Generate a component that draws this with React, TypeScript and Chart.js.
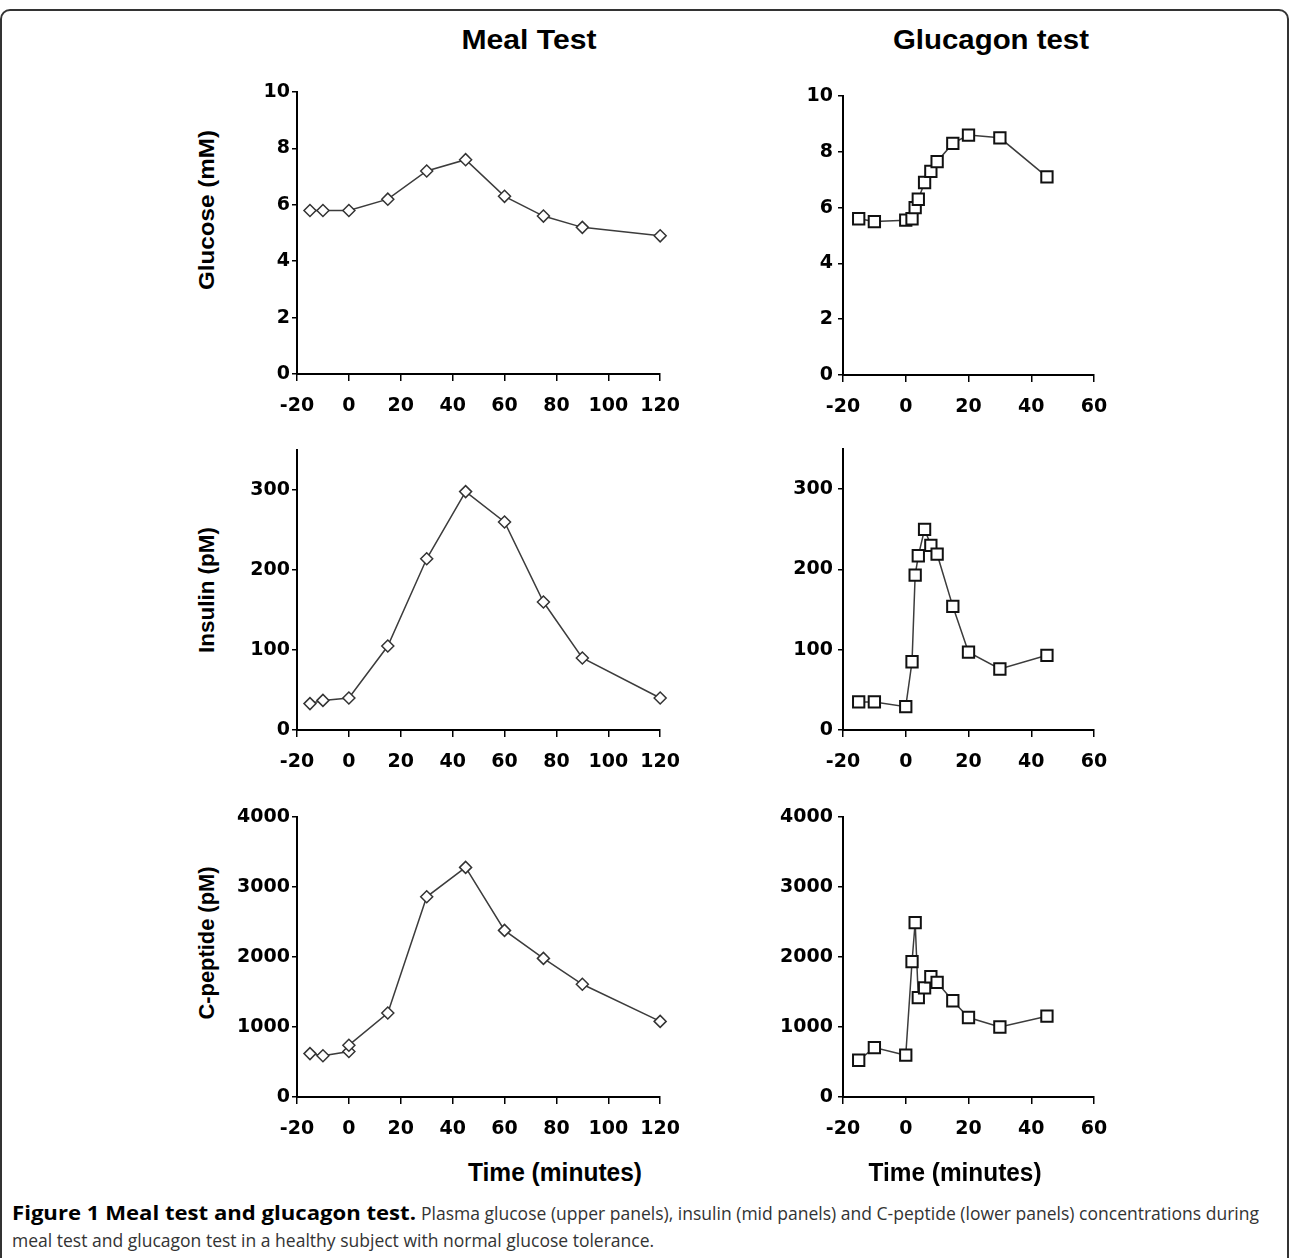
import React, { useEffect, useRef } from 'react';
import { Chart, registerables } from 'chart.js';

Chart.register(...registerables);

// ---------------- data ----------------
const mealTimes = [-15, -10, 0, 15, 30, 45, 60, 75, 90, 120];
const mealGlucose = [5.8, 5.8, 5.8, 6.2, 7.2, 7.6, 6.3, 5.6, 5.2, 4.9];
const mealInsulin = [33, 37, 40, 105, 214, 298, 260, 160, 90, 40];
const mealCpepTimes = [-15, -10, 0, 0, 15, 30, 45, 60, 75, 90, 120];
const mealCpeptide = [620, 590, 650, 740, 1200, 2860, 3280, 2380, 1980, 1610, 1080];

const glucagonTimes = [-15, -10, 0, 2, 3, 4, 6, 8, 10, 15, 20, 30, 45];
const glucagonGlucose = [5.6, 5.5, 5.55, 5.6, 6.0, 6.3, 6.9, 7.3, 7.65, 8.3, 8.6, 8.5, 7.1];
const glucagonInsulin = [35, 35, 29, 85, 193, 217, 250, 230, 219, 154, 97, 76, 93];
const glucagonCpeptide = [525, 706, 597, 1933, 2492, 1420, 1560, 1718, 1637, 1375, 1136, 1000, 1155];

const mealXRange = [-20, 120];
const glucagonXRange = [-20, 60];
const xTickStep = 20;
const glucoseRange = [0, 10, 2];
const insulinRange = [0, 350, 100];
const cpeptideRange = [0, 4000, 1000];

const columnTitles = ['Meal Test', 'Glucagon test'];
const rowTitles = ['Glucose (mM)', 'Insulin (pM)', 'C-peptide (pM)'];
const xAxisTitle = 'Time (minutes)';
const captionBold = 'Figure 1 Meal test and glucagon test.';
const captionLine1 = 'Plasma glucose (upper panels), insulin (mid panels) and C-peptide (lower panels) concentrations during';
const captionLine2 = 'meal test and glucagon test in a healthy subject with normal glucose tolerance.';

// ---------------- layout helpers ----------------
const WY = 75;
const HX = 50;
const PADT = 25;
const PADR = 30;

type Area = { l: number; t: number; r: number; b: number };

const TICK_FONT = { family: 'DejaVu Sans', size: 19, weight: 'bold' as const };

type PanelProps = {
  xs: number[];
  ys: number[];
  area: Area;
  xRange: number[];
  yRange: number[];
  marker: 'diamond' | 'square';
  yTickPad: number;
};

function Panel({ xs, ys, area, xRange, yRange, marker, yTickPad }: PanelProps) {
  const ref = useRef<HTMLCanvasElement | null>(null);
  const width = area.r - area.l + WY + PADR;
  const height = area.b - area.t + PADT + HX;
  useEffect(() => {
    if (!ref.current) return;
    const pts = xs.map((x, i) => ({ x, y: ys[i] }));
    const isDiamond = marker === 'diamond';
    const chart = new Chart(ref.current, {
      type: 'line',
      data: {
        datasets: [
          {
            data: pts,
            borderColor: '#3c3c3c',
            borderWidth: 1.5,
            tension: 0,
            fill: false,
            clip: false as any,
            pointStyle: isDiamond ? 'rectRot' : 'rect',
            pointRadius: isDiamond ? 6 : 8,
            pointBorderWidth: isDiamond ? 1.5 : 2,
            pointBorderColor: isDiamond ? '#333' : '#111',
            pointBackgroundColor: '#fff',
          },
        ],
      },
      options: {
        animation: false,
        responsive: false,
        maintainAspectRatio: false,
        layout: { padding: { left: 0, top: PADT, right: PADR, bottom: 0 } },
        plugins: { legend: { display: false }, tooltip: { enabled: false } },
        scales: {
          x: {
            type: 'linear',
            min: xRange[0],
            max: xRange[1],
            afterFit: (s: any) => {
              s.height = HX;
            },
            ticks: {
              stepSize: xTickStep,
              font: TICK_FONT,
              color: '#000',
              padding: 14,
              maxRotation: 0,
              autoSkip: false,
              includeBounds: false,
              callback: (v: any) => String(v),
            },
            grid: { drawOnChartArea: false, drawTicks: true, tickLength: 7, color: '#000', lineWidth: 1.5 },
            border: { display: true, color: '#000', width: 2 },
          },
          y: {
            type: 'linear',
            min: yRange[0],
            max: yRange[1],
            afterFit: (s: any) => {
              s.width = WY;
            },
            ticks: {
              stepSize: yRange[2],
              font: TICK_FONT,
              color: '#000',
              padding: yTickPad,
              autoSkip: false,
              includeBounds: false,
              callback: (v: any) => String(v),
            },
            grid: { drawOnChartArea: false, drawTicks: true, tickLength: 5, color: '#000', lineWidth: 1.5 },
            border: { display: true, color: '#000', width: 2 },
          },
        },
      },
    } as any);
    return () => chart.destroy();
  }, []);
  return (
    <canvas
      ref={ref}
      width={width}
      height={height}
      style={{ position: 'absolute', left: area.l - WY, top: area.t - PADT, width, height }}
    />
  );
}

const measureCtx = document.createElement('canvas').getContext('2d') as CanvasRenderingContext2D;
function measure(text: string, font: string) {
  measureCtx.font = font;
  return measureCtx.measureText(text).width;
}

function FitText({
  text,
  font,
  cx,
  cy,
  width,
  rotate = 0,
  color = '#000',
}: {
  text: string;
  font: string;
  cx: number;
  cy: number;
  width: number;
  rotate?: number;
  color?: string;
}) {
  const sx = width / measure(text, font);
  return (
    <div
      style={{
        position: 'absolute',
        left: cx,
        top: cy,
        whiteSpace: 'nowrap',
        font,
        lineHeight: 1,
        color,
        transform: `translate(-50%, -50%) rotate(${rotate}deg) scaleX(${sx})`,
      }}
    >
      {text}
    </div>
  );
}

function LeftText({
  text,
  font,
  x,
  cy,
  sx,
  color,
}: {
  text: string;
  font: string;
  x: number;
  cy: number;
  sx: number;
  color: string;
}) {
  return (
    <div
      style={{
        position: 'absolute',
        left: x,
        top: cy,
        whiteSpace: 'pre',
        lineHeight: 1,
        font,
        color,
        transformOrigin: '0 50%',
        transform: `translate(0, -50%) scaleX(${sx})`,
      }}
    >
      {text}
    </div>
  );
}

const CAP_BOLD = 'bold 19px "Open Sans"';
const CAP_REG = '19px "Open Sans"';

function Caption() {
  const sxBold = 404 / measure(captionBold, CAP_BOLD);
  const sxReg = 838 / measure(captionLine1, CAP_REG);
  return (
    <>
      <LeftText text={captionBold} font={CAP_BOLD} x={12} cy={1213} sx={sxBold} color="#000" />
      <LeftText text={captionLine1} font={CAP_REG} x={421} cy={1213} sx={sxReg} color="#333" />
      <LeftText text={captionLine2} font={CAP_REG} x={12} cy={1240} sx={sxReg} color="#333" />
    </>
  );
}

export default function App() {
  const mealArea = (t: number, b: number): Area => ({ l: 297, r: 664, t, b });
  const glucArea = (t: number, b: number): Area => ({ l: 843, r: 1094, t, b });
  return (
    <div
      style={{
        position: 'absolute',
        left: 0,
        top: 0,
        width: 1290,
        height: 1258,
        overflow: 'hidden',
        background: '#fff',
      }}
    >
      <div
        style={{
          position: 'absolute',
          left: 0,
          top: 9,
          width: 1289,
          height: 1300,
          border: '2px solid #333',
          borderRadius: 10,
          boxSizing: 'border-box',
        }}
      />
      <FitText text={columnTitles[0]} font='bold 28px "Liberation Sans"' cx={529} cy={40} width={135} />
      <FitText text={columnTitles[1]} font='bold 28px "Liberation Sans"' cx={991} cy={40} width={196} />

      <FitText text={rowTitles[0]} font='bold 22px "Liberation Sans"' cx={207} cy={210} width={160} rotate={-90} />
      <FitText text={rowTitles[1]} font='bold 22px "Liberation Sans"' cx={207} cy={590} width={126} rotate={-90} />
      <FitText text={rowTitles[2]} font='bold 22px "Liberation Sans"' cx={207} cy={943} width={153} rotate={-90} />

      <Panel xs={mealTimes} ys={mealGlucose} area={mealArea(92, 374)} xRange={mealXRange} yRange={glucoseRange} marker="diamond" yTickPad={2} />
      <Panel xs={mealTimes} ys={mealInsulin} area={mealArea(450, 730)} xRange={mealXRange} yRange={insulinRange} marker="diamond" yTickPad={2} />
      <Panel xs={mealCpepTimes} ys={mealCpeptide} area={mealArea(817, 1097)} xRange={mealXRange} yRange={cpeptideRange} marker="diamond" yTickPad={2} />

      <Panel xs={glucagonTimes} ys={glucagonGlucose} area={glucArea(96, 375)} xRange={glucagonXRange} yRange={glucoseRange} marker="square" yTickPad={5} />
      <Panel xs={glucagonTimes} ys={glucagonInsulin} area={glucArea(449, 730)} xRange={glucagonXRange} yRange={insulinRange} marker="square" yTickPad={5} />
      <Panel xs={glucagonTimes} ys={glucagonCpeptide} area={glucArea(817, 1097)} xRange={glucagonXRange} yRange={cpeptideRange} marker="square" yTickPad={5} />

      <FitText text={xAxisTitle} font='bold 26px "Liberation Sans"' cx={555} cy={1172} width={174} />
      <FitText text={xAxisTitle} font='bold 26px "Liberation Sans"' cx={955} cy={1172} width={173} />

      <Caption />
    </div>
  );
}
